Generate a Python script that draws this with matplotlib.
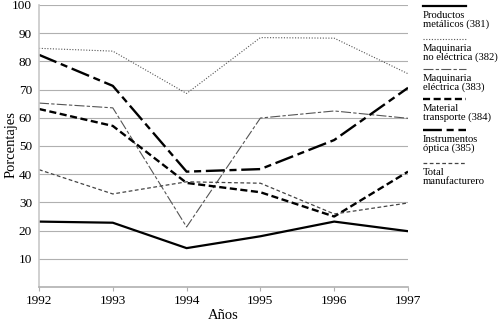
import matplotlib
matplotlib.use("Agg")
import matplotlib.pyplot as plt
from matplotlib.lines import Line2D

plt.rcParams['font.family'] = ['Liberation Serif', 'DejaVu Serif']

years = [1992, 1993, 1994, 1995, 1996, 1997]
metalicos = [23.2, 22.8, 13.8, 18.0, 23.2, 19.8]
maq_no_electrica = [84.6, 83.6, 68.6, 88.4, 88.2, 75.6]
maq_electrica = [65.2, 63.5, 21.3, 59.9, 62.4, 59.8]
transporte = [63.1, 57.1, 36.9, 33.6, 25.0, 40.9]
optica = [82.3, 71.3, 40.9, 41.8, 52.1, 70.6]
total = [41.6, 33.0, 37.3, 36.8, 25.9, 29.8]

labels = ["Productos\nmetálicos (381)", "Maquinaria\nno eléctrica (382)",
          "Maquinaria\neléctrica (383)", "Material\ntransporte (384)",
          "Instrumentos\nóptica (385)", "Total\nmanufacturero"]
series = [metalicos, maq_no_electrica, maq_electrica, transporte, optica, total]
styles = [
    dict(color="black", lw=1.6, ls="-"),
    dict(color="#555555", lw=0.8, ls=(0, (1, 1.5))),
    dict(color="#555555", lw=0.8, ls=(0, (9, 2, 3, 2))),
    dict(color="black", lw=1.7, ls=(0, (3, 1.5))),
    dict(color="black", lw=1.7, ls=(0, (8, 2, 3, 2))),
    dict(color="#444444", lw=0.9, ls=(0, (3, 2))),
]

fig = plt.figure(figsize=(5, 3.24), dpi=100)
ax = fig.add_axes([0.078, 0.114, 0.738, 0.871])

for vals, st in zip(series, styles):
    ax.plot(years, vals, **st)

ax.set_xlim(1992, 1997)
ax.set_ylim(0, 100)
ax.set_yticks(range(10, 101, 10))
ax.set_xticks(years)
ax.grid(axis="y", color="#b0b0b0", lw=0.8)
ax.set_axisbelow(True)
for s in ["top", "right"]:
    ax.spines[s].set_visible(False)
ax.spines["left"].set_color("#c8c8c8")
ax.spines["bottom"].set_color("#b0b0b0")
ax.spines["left"].set_linewidth(1.2)
ax.spines["bottom"].set_linewidth(1.2)
ax.tick_params(axis="y", length=0, labelsize=9.5, pad=5)
ax.tick_params(axis="x", length=3, color="#b0b0b0", labelsize=9.5, pad=3)
ax.set_xlabel("Años", fontsize=10.5, labelpad=1)
fig.text(11 / 500, 1 - 145 / 324, "Porcentajes", fontsize=10.5, rotation=90,
         ha="center", va="center")

# legend to the right: line sample above each label
line_y = [6, 39, 69, 99, 130, 163]
for y, lab, st in zip(line_y, labels, styles):
    yf = 1 - y / 324
    fig.add_artist(Line2D([423 / 500, 466 / 500], [yf, yf], transform=fig.transFigure, **st))
    fig.text(423 / 500, 1 - (y + 5) / 324, lab, fontsize=7.7, va="top", ha="left",
             linespacing=0.95)

fig.savefig("out.png", dpi=100)
